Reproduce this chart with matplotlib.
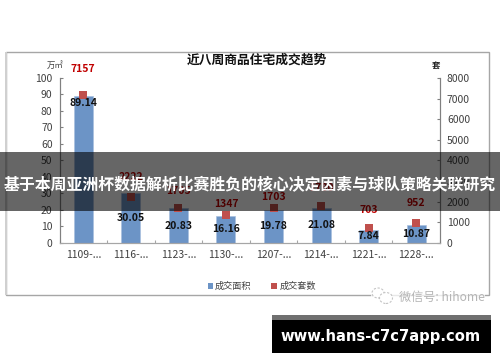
import matplotlib
matplotlib.use("Agg")
from matplotlib import pyplot as plt
from matplotlib.patches import Ellipse, Rectangle

plt.rcParams["font.family"] = ["Noto Sans CJK SC", "DejaVu Sans"]

W, H = 500, 362

weeks = ["1109-...", "1116-...", "1123-...", "1130-...", "1207-...", "1214-...", "1221-...", "1228-..."]
area = [89.14, 30.05, 20.83, 16.16, 19.78, 21.08, 7.84, 10.87]
units = [7157, 2222, 1705, 1347, 1703, 1780, 703, 952]
left_ticks = [0, 10, 20, 30, 40, 50, 60, 70, 80, 90, 100]
right_ticks = [0, 1000, 2000, 3000, 4000, 5000, 6000, 7000, 8000]

# how far each count label sits above its marker, in points
label_lift = [19, 14.5, 12, 8, 8, 13, 13, 14.5]

TITLE = "近八周商品住宅成交趋势"
BANNER = "基于本周亚洲杯数据解析比赛胜负的核心决定因素与球队策略关联研究"
FOOTER = "www.hans-c7c7app.com"
WATERMARK = "微信号: hihome"

BLUE = "#6c94c6"
RED = "#c0504d"
GREY = "#a6a6a6"
TEXT = "#404040"


# pixel box (from top left) -> figure fraction rectangle
def px_rect(fig, x0, y0, x1, y1, **kw):
    r = Rectangle((x0 / W, 1 - y1 / H), (x1 - x0) / W, (y1 - y0) / H,
                  transform=fig.transFigure, **kw)
    fig.add_artist(r)
    return r


def px_oval(fig, cx, cy, w, h, **kw):
    e = Ellipse((cx / W, 1 - cy / H), w / W, h / H, transform=fig.transFigure, **kw)
    fig.add_artist(e)
    return e


def px_text(fig, x, y, s, **kw):
    return fig.text(x / W, 1 - y / H, s, **kw)


fig = plt.figure(figsize=(W / 100, H / 100), dpi=100, facecolor="white")

# chart frame
px_rect(fig, 6, 51.5, 489, 295, fc="white", ec=GREY, lw=1.0, zorder=0)
px_rect(fig, 5, 51.5, 7, 295, fc="#d0d0d0", ec="none", zorder=0.5)

ax = fig.add_axes([59.5 / W, 1 - 242.7 / H, 380.5 / W, 164.7 / H])
ax.patch.set_alpha(0)
ax2 = ax.twinx()

x = range(len(weeks))
ax.bar(x, area, width=0.4, color=BLUE, edgecolor="#a9c0de", linewidth=0.5, zorder=2)
ax.set_xlim(-0.5, 7.5)
ax.set_ylim(0, 100)
ax.set_yticks(left_ticks)
ax.set_xticks([i - 0.5 for i in range(9)])
ax.set_xticklabels([])
ax.tick_params(axis="x", direction="in", length=2.5, width=0.8, color=GREY)
ax.tick_params(axis="y", direction="in", length=2.5, width=0.8, color="#808080",
               labelsize=7.5, labelcolor=TEXT, pad=5)
for i, w in enumerate(weeks):
    ax.text(i, -7.5, w, ha="center", va="center", fontsize=7.5, color=TEXT)

ax2.scatter(x, units, marker="s", s=36, color=RED, linewidths=0, zorder=5)
ax2.set_ylim(0, 8000)
ax2.set_yticks(right_ticks)
ax2.tick_params(axis="y", direction="in", length=2.5, width=0.8, color="#808080",
                labelsize=7.5, labelcolor=TEXT, pad=5)

# bar labels are centred, except the tall first bar where it sits near the top
for i, v in enumerate(area):
    y = v - 4.5 if v > 50 else v / 2
    ax2.text(i, y * 80, f"{v:g}", ha="center", va="center", fontsize=7.5,
             fontweight="bold", color="#111111", zorder=6)
for i, u in enumerate(units):
    ax2.annotate(str(u), (i, u), xytext=(0, label_lift[i]), textcoords="offset points",
                 ha="center", va="center", fontsize=7.5, fontweight="bold", color="#c00000", zorder=6)

for a in (ax, ax2):
    a.spines["top"].set_visible(False)
    a.spines["left"].set_color("#808080")
    a.spines["right"].set_color("#808080")
    a.spines["bottom"].set_color(GREY)

px_text(fig, 257, 60.5, TITLE, ha="center", va="center", fontsize=9.2, fontweight="bold", color="#111111")
px_text(fig, 55, 65, "万㎡", ha="center", va="center", fontsize=6, color=TEXT, style="italic")
px_text(fig, 436, 65.5, "套", ha="center", va="center", fontsize=6, fontweight="bold", color="#222222")

# legend
px_rect(fig, 207.5, 283, 212.7, 288.5, fc=BLUE, ec="none")
px_text(fig, 215, 286.7, "成交面积", ha="left", va="center", fontsize=6.6, color=TEXT)
px_rect(fig, 270.7, 283, 277.3, 289, fc=RED, ec="none")
px_text(fig, 280, 286.7, "成交套数", ha="left", va="center", fontsize=6.6, color=TEXT)

# watermark sits over the frame corner
px_rect(fig, 371, 288, 485, 305, fc="white", ec="none", alpha=0.75, zorder=8)
px_oval(fig, 378, 293, 12, 10, fc="white", ec="#c4c4c4", lw=0.8, ls=(0, (2, 1.5)), zorder=9)
px_oval(fig, 386, 298, 13, 11, fc="white", ec="#c4c4c4", lw=0.8, ls=(0, (2, 1.5)), zorder=9)
px_text(fig, 484.5, 297, WATERMARK, ha="right", va="center", fontsize=8.7, color="#b5b5b5", zorder=9)

# banner across the chart
px_rect(fig, 0, 152, 500, 210.7, fc="black", ec="none", alpha=0.6, zorder=10)
px_text(fig, 250, 185.5, BANNER, ha="center", va="center", fontsize=11.45, fontweight="bold", color="white", zorder=11)

# footer box
px_rect(fig, 272, 315, 491, 320, fc="#707070", ec="none", zorder=10)
px_rect(fig, 272, 320, 491, 353, fc="black", ec="none", zorder=10)
px_text(fig, 380.5, 336.5, FOOTER, ha="center", va="center", fontsize=10.6, fontweight="bold",
        color="white", family="DejaVu Sans", zorder=11)

fig.savefig("out.png", dpi=100)
plt.close(fig)
